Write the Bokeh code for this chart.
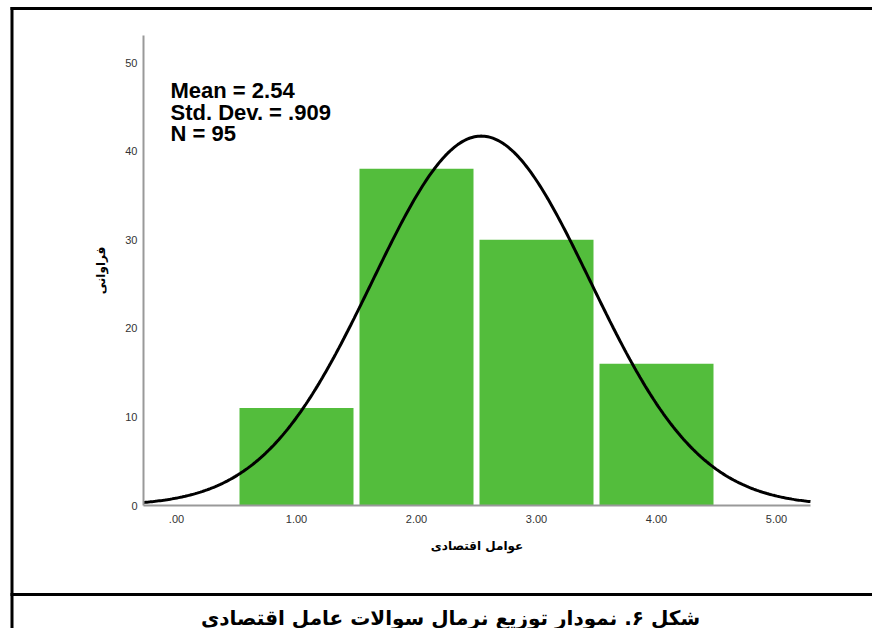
import numpy as np
from bokeh.plotting import figure
from bokeh.models import Range1d, FixedTicker, Label, BoxAnnotation, ColumnDataSource
from bokeh.embed import file_html
from bokeh.resources import INLINE

# ---- data ----
bin_centers = [1, 2, 3, 4]
counts = [11, 38, 30, 16]
x_ticks = [0, 1, 2, 3, 4, 5]
x_tick_labels = [".00", "1.00", "2.00", "3.00", "4.00", "5.00"]
y_ticks = [0, 10, 20, 30, 40, 50]
mean = 2.54
std_dev = 0.909
n_obs = 95
bin_width = 1.0
stats_lines = ["Mean = 2.54", "Std. Dev. = .909", "N = 95"]
x_title = "عوامل اقتصادی"
y_title = "فراوانی"
caption = "شکل ۶. نمودار توزیع نرمال سوالات عامل اقتصادی"

# ---- layout (canvas pixels) ----
W, H = 872, 628
PX_X, X_ORIGIN = 120.0, 176.0      # px per x unit, canvas x of x=0
PX_Y, Y_ORIGIN = 8.86, 505.0       # px per y unit, canvas y of y=0
AX_X0, AX_X1 = -0.275, 5.283       # x-axis extent (data)
AX_Y1 = 53.0                       # y-axis top (data)

p = figure(width=W, height=H, output_backend="svg", toolbar_location=None,
           x_range=Range1d(-X_ORIGIN / PX_X, (W - X_ORIGIN) / PX_X),
           y_range=Range1d(-(H - Y_ORIGIN) / PX_Y, Y_ORIGIN / PX_Y),
           min_border=0, min_border_left=0, min_border_right=0,
           min_border_top=0, min_border_bottom=0)
p.xgrid.grid_line_color = None
p.ygrid.grid_line_color = None
p.outline_line_color = None
p.background_fill_color = "white"
p.border_fill_color = "white"

GREEN = "#53BD3C"
src = ColumnDataSource(dict(x=bin_centers, top=counts))
p.vbar(x="x", top="top", width=0.95, bottom=0, source=src,
       fill_color=GREEN, line_color=None)

xs = np.linspace(AX_X0, AX_X1, 400)
ys = n_obs * bin_width / (std_dev * np.sqrt(2 * np.pi)) * np.exp(-0.5 * ((xs - mean) / std_dev) ** 2)
p.line(xs, ys, line_color="black", line_width=3)

xa = p.xaxis[0]
ya = p.yaxis[0]
xa.fixed_location = 0
xa.bounds = (AX_X0, AX_X1)
ya.fixed_location = AX_X0
ya.bounds = (0, AX_Y1)
xa.ticker = FixedTicker(ticks=x_ticks)
xa.major_label_overrides = {t: l for t, l in zip(x_ticks, x_tick_labels)}
ya.ticker = FixedTicker(ticks=y_ticks)
for ax in (xa, ya):
    ax.axis_line_color = "#999999"
    ax.axis_line_width = 2
    ax.major_tick_line_color = None
    ax.minor_tick_line_color = None
    ax.major_tick_in = 0
    ax.major_tick_out = 0
    ax.major_label_text_font = "Liberation Sans"
    ax.major_label_text_font_size = "11px"
    ax.major_label_text_color = "#333333"
    ax.axis_label_text_font = "DejaVu Sans"
    ax.axis_label_text_font_style = "bold"
    ax.axis_label_text_font_size = "12px"
    ax.axis_label_text_color = "black"
xa.major_label_standoff = 9
ya.major_label_standoff = 6
xa.axis_label = x_title
ya.axis_label = y_title
xa.axis_label_standoff = 13
ya.axis_label_standoff = 14

# stats text (screen units: x from left, y from bottom of canvas)
for i, t in enumerate(stats_lines):
    p.add_layout(Label(x=170, y=H - 90 - i * 21.5, x_units="screen", y_units="screen",
                       text=t, text_font="Liberation Sans", text_font_style="bold",
                       text_font_size="22px", text_color="black",
                       text_baseline="alphabetic", text_align="left"))

# caption
p.add_layout(Label(x=450, y=H - 617, x_units="screen", y_units="screen",
                   text=caption, text_font="DejaVu Sans", text_font_style="bold",
                   text_font_size="20px", text_color="black",
                   text_align="center", text_baseline="alphabetic"))

# frame lines
def line_box(l, r, b, t):
    return BoxAnnotation(left=l, right=r, bottom=b, top=t,
                         left_units="screen", right_units="screen",
                         bottom_units="screen", top_units="screen",
                         fill_color="black", fill_alpha=1.0, line_color=None)

p.add_layout(line_box(10, 13, -10, H - 6.5))          # left border
p.add_layout(line_box(10, W + 10, H - 9.5, H - 6.5))  # top border
p.add_layout(line_box(10, W + 10, H - 595.5, H - 592.5))  # caption separator

open("out.html", "w").write(file_html(p, INLINE))
